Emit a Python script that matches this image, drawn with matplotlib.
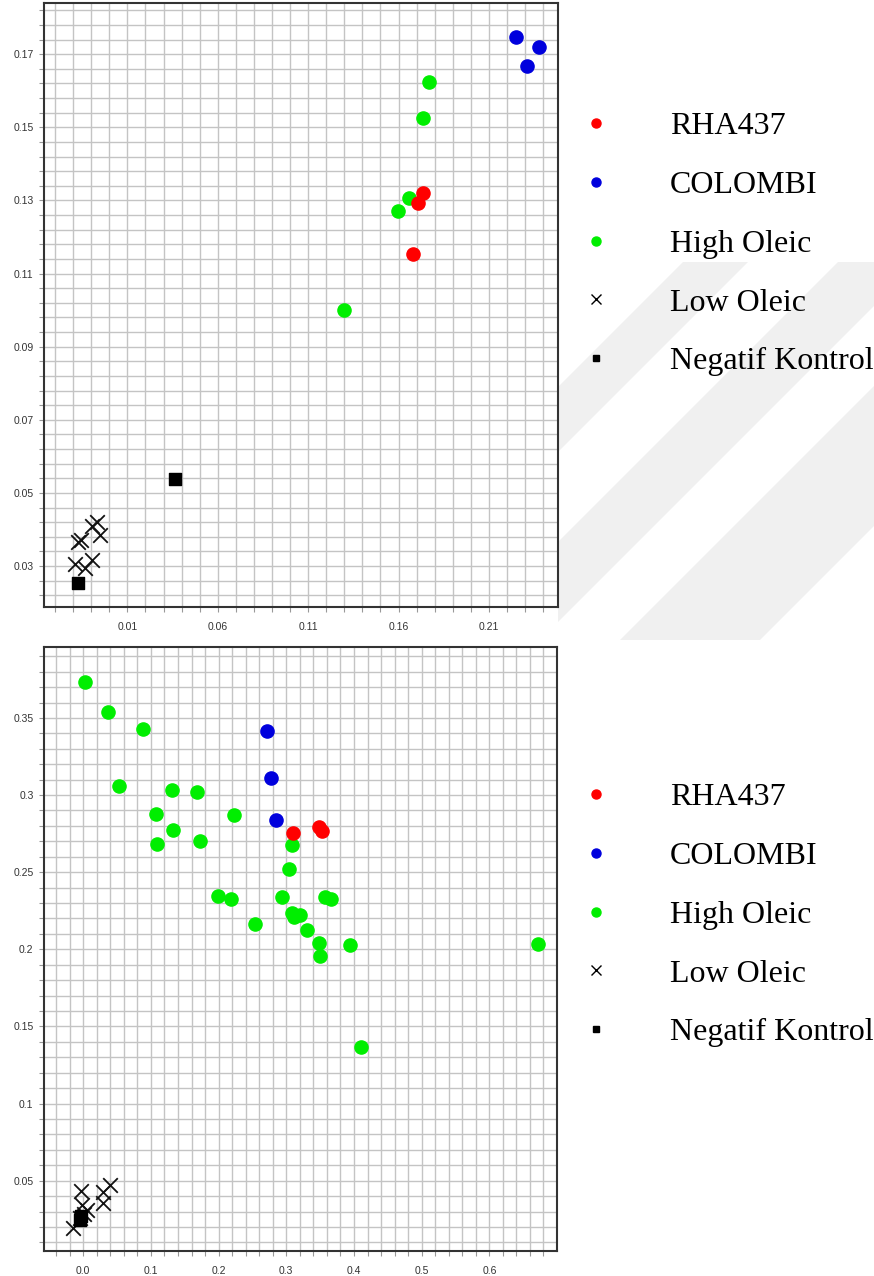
import numpy as np
import matplotlib.pyplot as plt
from matplotlib.lines import Line2D
from matplotlib.patches import Polygon, Rectangle

# ---- upper panel ----
rha_x1 = [0.1734, 0.1708, 0.1682]
rha_y1 = [0.1320, 0.1292, 0.1153]
col_x1 = [0.2250, 0.2377, 0.2312]
col_y1 = [0.1746, 0.1721, 0.1667]
hi_x1 = [0.1767, 0.1734, 0.1658, 0.1599, 0.1300]
hi_y1 = [0.1623, 0.1525, 0.1307, 0.1270, 0.0999]
lo_x1 = [-0.0068, -0.0095, -0.0052, -0.0156, -0.0172, -0.0189, -0.0095, -0.0134]
lo_y1 = [0.0421, 0.0410, 0.0385, 0.0371, 0.0366, 0.0305, 0.0316, 0.0295]
neg_x1 = [0.0364, -0.0174]
neg_y1 = [0.0538, 0.0253]

# ---- lower panel ----
rha_x2 = [0.3098, 0.3476, 0.3527]
rha_y2 = [0.2753, 0.2790, 0.2764]
col_x2 = [0.2722, 0.2777, 0.2846]
col_y2 = [0.3418, 0.3110, 0.2840]
hi_x2 = [0.003, 0.0361, 0.0888, 0.0533, 0.1317, 0.1678, 0.108, 0.2234, 0.1331,
         0.1095, 0.1726, 0.1997, 0.218, 0.254, 0.2944, 0.3033, 0.3083, 0.3083,
         0.3107, 0.3206, 0.3305, 0.3476, 0.3501, 0.3565, 0.3664, 0.3945, 0.6722,
         0.4108]
hi_y2 = [0.3736, 0.3536, 0.3429, 0.3062, 0.3034, 0.3017, 0.2879, 0.287, 0.2773,
         0.2686, 0.2699, 0.2346, 0.2327, 0.2162, 0.2341, 0.2519, 0.2675, 0.2233,
         0.2211, 0.2221, 0.2124, 0.2042, 0.1955, 0.2341, 0.2324, 0.2028, 0.2034,
         0.1368]
lo_x2 = [-0.0038, 0.0395, 0.0287, 0.0296, -0.0024, 0.005, -0.0148, -0.0049, 0.001]
lo_y2 = [0.0435, 0.0470, 0.0427, 0.0355, 0.0344, 0.0312, 0.0193, 0.0258, 0.0284]
neg_x2 = [-0.0049, -0.0030]
neg_y2 = [0.0247, 0.0268]

labels = ["RHA437", "COLOMBI", "High Oleic", "Low Oleic", "Negatif Kontrol"]
RED, BLUE, GREEN = "#ff0000", "#0000dd", "#00ee00"


def panel(ax, pts, xlim, ylim, xgrid, ygrid, xlab, ylab, fmt_x, fmt_y):
    ax.set_xlim(*xlim)
    ax.set_ylim(*ylim)
    ax.set_xticks(xgrid)
    ax.set_yticks(ygrid)
    ax.set_xticklabels([fmt_x.format(v) if np.any(np.isclose(v, xlab)) else "" for v in xgrid])
    ax.set_yticklabels([fmt_y.format(v) if np.any(np.isclose(v, ylab)) else "" for v in ygrid])
    ax.grid(True, color="#c4c4c4", lw=1.0)
    ax.set_axisbelow(True)
    ax.tick_params(axis="both", direction="out", length=3.5, width=0.8, color="#999999",
                   labelsize=7.5, labelcolor="#333333")
    ax.tick_params(axis="x", pad=7)
    ax.tick_params(axis="y", pad=4)
    for s in ax.spines.values():
        s.set_color("#333333")
        s.set_linewidth(1.5)
    for lab in ax.get_xticklabels() + ax.get_yticklabels():
        lab.set_fontfamily("Liberation Sans")

    (rx, ry), (cx, cy), (hx, hy), (lx, ly), (nx, ny) = pts
    ax.scatter(hx, hy, s=90, color=GREEN, zorder=3)
    ax.scatter(cx, cy, s=90, color=BLUE, zorder=3)
    ax.scatter(rx, ry, s=90, color=RED, zorder=3)
    ax.scatter(lx, ly, s=110, marker="x", color="#111111", linewidths=1.3, zorder=3)
    ax.scatter(nx, ny, s=80, marker="s", color="black", zorder=4)

    handles = [
        Line2D([], [], ls="", marker="o", ms=6.5, color=RED),
        Line2D([], [], ls="", marker="o", ms=6.5, color=BLUE),
        Line2D([], [], ls="", marker="o", ms=6.5, color=GREEN),
        Line2D([], [], ls="", marker="x", ms=7, mew=1.0, color="black"),
        Line2D([], [], ls="", marker="s", ms=5, color="black"),
    ]
    return handles


fig = plt.figure(figsize=(8.74, 12.76), dpi=100)

# faint diagonal background bands on the right-hand side
bg = fig.add_axes([0, 0, 1, 1], zorder=-1)
bg.set_xlim(0, 874)
bg.set_ylim(1276, 0)
bg.axis("off")
clip = Rectangle((558, 262), 316, 378, transform=bg.transData, visible=False)
bg.add_patch(clip)
for c0, c1 in [(945, 1010), (1100, 1180), (1260, 1400)]:
    band = Polygon([(c0 - 100, 100), (c1 - 100, 100), (c1 - 800, 800), (c0 - 800, 800)],
                   closed=True, color="#f0f0f0", lw=0)
    bg.add_patch(band)
    band.set_clip_path(clip)

ax1 = fig.add_axes([44 / 874, 1 - 607 / 1276, 514 / 874, 604 / 1276])
ax2 = fig.add_axes([44 / 874, 1 - 1251 / 1276, 513 / 874, 604 / 1276])

h1 = panel(ax1,
           [(rha_x1, rha_y1), (col_x1, col_y1), (hi_x1, hi_y1), (lo_x1, lo_y1), (neg_x1, neg_y1)],
           (-0.0361, 0.2482), (0.0188, 0.184),
           np.round(np.arange(-0.03, 0.2485, 0.01), 3), np.round(np.arange(0.022, 0.184, 0.004), 3),
           [0.01, 0.06, 0.11, 0.16, 0.21], [0.03, 0.05, 0.07, 0.09, 0.11, 0.13, 0.15, 0.17],
           "{:.2f}", "{:.2f}")

h2 = panel(ax2,
           [(rha_x2, rha_y2), (col_x2, col_y2), (hi_x2, hi_y2), (lo_x2, lo_y2), (neg_x2, neg_y2)],
           (-0.058, 0.70), (0.0044, 0.396),
           np.round(np.arange(-0.04, 0.70, 0.02), 3), np.round(np.arange(0.01, 0.396, 0.01), 3),
           [0.0, 0.1, 0.2, 0.3, 0.4, 0.5, 0.6], [0.05, 0.1, 0.15, 0.2, 0.25, 0.3, 0.35],
           "{:.1f}", "{:g}")

for ax, h, ytop in [(ax1, h1, 112), (ax2, h2, 783)]:
    ax.legend(h, labels, loc="upper left", bbox_to_anchor=(580 / 874, 1 - ytop / 1276),
              bbox_transform=fig.transFigure, frameon=False, borderpad=0, borderaxespad=0,
              handlelength=1.0, handletextpad=1.82, labelspacing=0.92,
              prop={"family": "Liberation Serif", "size": 23})

fig.savefig("out.png", dpi=100, facecolor="white")
